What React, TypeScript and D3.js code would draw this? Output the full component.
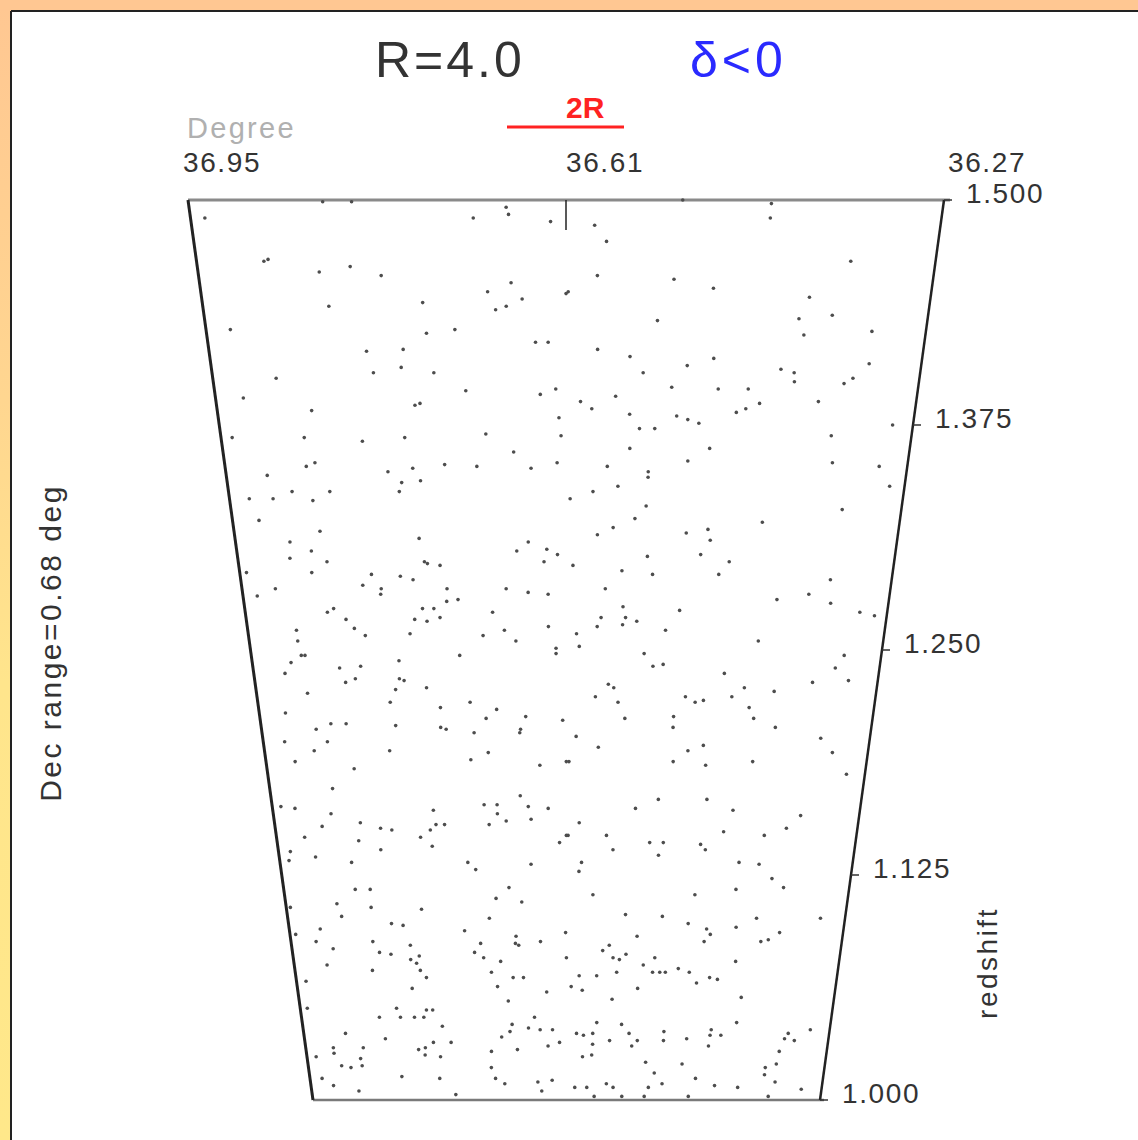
import React from "react";
import * as d3 from "d3";

// Right ascension (deg) and redshift of each galaxy in the slice
const galaxies: [number, number][] = [
  [36.937,1.490],[36.694,1.490],[36.664,1.496],[36.662,1.492],[36.624,1.488],[36.888,1.466],[36.884,1.467],[36.838,1.460],
  [36.809,1.463],[36.781,1.458],[36.683,1.449],[36.661,1.454],[36.651,1.445],[36.676,1.439],[36.666,1.441],[36.610,1.448],
  [36.832,1.441],[36.744,1.443],[36.927,1.428],[36.742,1.426],[36.715,1.428],[36.800,1.416],[36.765,1.417],[36.639,1.421],
  [36.627,1.421],[36.768,1.407],[36.795,1.404],[36.737,1.404],[36.889,1.401],[36.923,1.390],[36.707,1.394],[36.635,1.392],
  [36.620,1.395],[36.858,1.383],[36.757,1.386],[36.752,1.387],[36.617,1.379],[36.939,1.368],[36.868,1.368],[36.811,1.366],
  [36.769,1.368],[36.689,1.370],[36.615,1.369],[36.662,1.360],[36.869,1.352],[36.860,1.354],[36.788,1.349],[36.763,1.351],
  [36.731,1.353],[36.699,1.352],[36.645,1.351],[36.619,1.354],[36.909,1.347],[36.775,1.343],[36.756,1.344],[36.778,1.338],
  [36.930,1.334],[36.906,1.334],[36.886,1.338],[36.866,1.333],[36.848,1.338],[36.923,1.322],[36.862,1.316],[36.761,1.312],
  [36.894,1.310],[36.873,1.305],[36.896,1.301],[36.858,1.299],[36.757,1.299],[36.754,1.298],[36.741,1.297],[36.649,1.310],
  [36.661,1.305],[36.630,1.306],[36.619,1.303],[36.633,1.299],[36.943,1.293],[36.875,1.293],[36.813,1.292],[36.783,1.291],
  [36.770,1.289],[36.935,1.280],[36.915,1.284],[36.823,1.286],[36.804,1.284],[36.805,1.281],[36.735,1.284],[36.736,1.277],
  [36.724,1.278],[36.673,1.284],[36.650,1.282],[36.629,1.281],[36.863,1.271],[36.856,1.273],[36.844,1.267],[36.836,1.262],
  [36.825,1.258],[36.762,1.273],[36.750,1.273],[36.771,1.267],[36.758,1.266],[36.744,1.268],[36.688,1.271],[36.777,1.259],
  [36.699,1.258],[36.676,1.261],[36.664,1.255],[36.629,1.263],[36.898,1.261],[36.898,1.255],[36.621,1.251],[36.829,1.499],
  [36.803,1.499],[36.425,1.498],[36.425,1.490],[36.584,1.486],[36.573,1.477],[36.348,1.466],[36.581,1.458],[36.510,1.456],
  [36.473,1.451],[36.608,1.449],[36.383,1.446],[36.524,1.433],[36.391,1.434],[36.360,1.436],[36.385,1.425],[36.321,1.427],
  [36.580,1.417],[36.549,1.413],[36.494,1.408],[36.469,1.412],[36.536,1.404],[36.404,1.406],[36.391,1.404],[36.390,1.399],
  [36.320,1.409],[36.342,1.398],[36.334,1.401],[36.508,1.396],[36.463,1.395],[36.434,1.395],[36.596,1.388],[36.562,1.391],
  [36.585,1.384],[36.548,1.381],[36.502,1.380],[36.491,1.378],[36.480,1.376],[36.444,1.382],[36.435,1.384],[36.422,1.387],
  [36.365,1.388],[36.538,1.373],[36.523,1.373],[36.290,1.375],[36.349,1.369],[36.547,1.362],[36.468,1.362],[36.569,1.352],
  [36.528,1.349],[36.528,1.346],[36.489,1.355],[36.345,1.354],[36.298,1.352],[36.583,1.338],[36.558,1.341],[36.606,1.334],
  [36.285,1.341],[36.529,1.330],[36.330,1.328],[36.540,1.323],[36.562,1.318],[36.578,1.314],[36.487,1.315],[36.465,1.317],
  [36.462,1.311],[36.410,1.321],[36.471,1.303],[36.526,1.302],[36.441,1.299],[36.603,1.297],[36.552,1.294],[36.520,1.292],
  [36.451,1.292],[36.334,1.289],[36.569,1.284],[36.388,1.278],[36.355,1.281],[36.331,1.276],[36.550,1.274],[36.547,1.268],
  [36.573,1.268],[36.577,1.263],[36.550,1.264],[36.535,1.266],[36.490,1.272],[36.299,1.271],[36.283,1.269],[36.599,1.259],
  [36.504,1.261],[36.404,1.255],[36.596,1.252],[36.892,1.247],[36.896,1.247],[36.908,1.243],[36.916,1.237],[36.856,1.240],
  [36.833,1.241],[36.791,1.244],[36.725,1.247],[36.621,1.248],[36.851,1.232],[36.840,1.234],[36.792,1.234],[36.787,1.233],
  [36.797,1.228],[36.763,1.229],[36.894,1.226],[36.804,1.221],[36.749,1.218],[36.716,1.221],[36.921,1.215],[36.687,1.217],
  [36.699,1.212],[36.655,1.213],[36.614,1.211],[36.889,1.206],[36.872,1.209],[36.855,1.209],[36.800,1.208],[36.750,1.207],
  [36.744,1.206],[36.713,1.204],[36.661,1.206],[36.662,1.204],[36.926,1.199],[36.878,1.199],[36.894,1.194],[36.809,1.194],
  [36.718,1.189],[36.698,1.193],[36.917,1.188],[36.851,1.184],[36.640,1.186],[36.610,1.188],[36.878,1.173],[36.663,1.169],
  [36.940,1.163],[36.924,1.162],[36.705,1.164],[36.690,1.164],[36.690,1.159],[36.654,1.163],[36.631,1.162],[36.764,1.161],
  [36.883,1.159],[36.895,1.152],[36.850,1.154],[36.827,1.151],[36.814,1.150],[36.769,1.150],[36.762,1.153],[36.752,1.153],
  [36.781,1.146],[36.700,1.153],[36.680,1.155],[36.651,1.156],[36.917,1.146],[36.854,1.144],[36.829,1.139],[36.768,1.141],
  [36.618,1.143],[36.610,1.147],[36.936,1.138],[36.939,1.133],[36.907,1.135],[36.865,1.132],[36.727,1.132],[36.718,1.128],
  [36.652,1.131],[36.864,1.117],[36.846,1.117],[36.679,1.118],[36.888,1.109],[36.884,1.102],[36.847,1.107],[36.786,1.106],
  [36.695,1.112],[36.664,1.110],[36.945,1.107],[36.824,1.098],[36.810,1.097],[36.704,1.101],[36.912,1.095],[36.943,1.092],
  [36.735,1.094],[36.919,1.088],[36.899,1.084],[36.849,1.088],[36.803,1.086],[36.793,1.080],[36.716,1.087],[36.672,1.091],
  [36.673,1.087],[36.669,1.086],[36.642,1.088],[36.611,1.093],[36.842,1.082],[36.828,1.081],[36.724,1.082],[36.713,1.079],
  [36.804,1.078],[36.797,1.076],[36.692,1.077],[36.610,1.079],[36.909,1.075],[36.853,1.072],[36.793,1.072],[36.786,1.068],
  [36.704,1.071],[36.677,1.068],[36.664,1.068],[36.938,1.066],[36.805,1.062],[36.697,1.063],[36.635,1.060],[36.684,1.055],
  [36.941,1.051],[36.827,1.051],[36.789,1.050],[36.781,1.050],[36.850,1.046],[36.823,1.046],[36.805,1.046],[36.793,1.046],
  [36.770,1.041],[36.680,1.042],[36.659,1.040],[36.644,1.039],[36.628,1.039],[36.651,1.046],[36.694,1.035],[36.683,1.038],
  [36.896,1.037],[36.845,1.034],[36.914,1.029],[36.914,1.026],[36.875,1.029],[36.803,1.028],[36.794,1.029],[36.783,1.032],
  [36.760,1.032],[36.795,1.025],[36.775,1.024],[36.708,1.027],[36.674,1.028],[36.634,1.030],[36.619,1.032],[36.938,1.024],
  [36.880,1.023],[36.879,1.019],[36.906,1.019],[36.894,1.018],[36.709,1.018],[36.934,1.012],[36.828,1.013],[36.778,1.012],
  [36.704,1.012],[36.692,1.009],[36.648,1.010],[36.629,1.011],[36.643,1.005],[36.920,1.008],[36.887,1.005],[36.758,1.003],
  [36.526,1.248],[36.516,1.241],[36.505,1.242],[36.438,1.237],[36.310,1.247],[36.318,1.240],[36.302,1.233],[36.341,1.232],
  [36.564,1.231],[36.558,1.229],[36.578,1.224],[36.553,1.221],[36.479,1.224],[36.468,1.221],[36.459,1.222],[36.428,1.224],
  [36.415,1.229],[36.382,1.227],[36.408,1.218],[36.402,1.212],[36.545,1.212],[36.491,1.213],[36.491,1.207],[36.377,1.207],
  [36.599,1.202],[36.574,1.196],[36.325,1.201],[36.310,1.193],[36.607,1.188],[36.489,1.188],[36.473,1.194],[36.456,1.197],
  [36.452,1.186],[36.399,1.188],[36.291,1.181],[36.504,1.167],[36.448,1.167],[36.530,1.162],[36.417,1.161],[36.338,1.158],
  [36.353,1.151],[36.595,1.154],[36.563,1.147],[36.608,1.147],[36.512,1.143],[36.496,1.143],[36.501,1.136],[36.555,1.139],
  [36.452,1.142],[36.446,1.139],[36.426,1.149],[36.378,1.147],[36.592,1.132],[36.595,1.127],[36.405,1.132],[36.381,1.131],
  [36.364,1.123],[36.349,1.118],[36.578,1.114],[36.455,1.114],[36.406,1.117],[36.538,1.103],[36.493,1.102],[36.461,1.098],
  [36.438,1.095],[36.433,1.092],[36.440,1.088],[36.402,1.096],[36.378,1.101],[36.370,1.088],[36.361,1.089],[36.348,1.093],
  [36.300,1.101],[36.523,1.091],[36.565,1.083],[36.557,1.086],[36.552,1.079],[36.544,1.078],[36.536,1.081],[36.500,1.079],
  [36.514,1.075],[36.547,1.071],[36.502,1.071],[36.493,1.071],[36.486,1.071],[36.470,1.073],[36.456,1.071],[36.446,1.065],
  [36.430,1.068],[36.420,1.067],[36.399,1.077],[36.594,1.069],[36.572,1.069],[36.604,1.063],[36.590,1.061],[36.520,1.062],
  [36.552,1.056],[36.388,1.057],[36.571,1.043],[36.539,1.042],[36.529,1.037],[36.597,1.037],[36.588,1.036],[36.576,1.037],
  [36.576,1.031],[36.554,1.033],[36.525,1.030],[36.518,1.033],[36.484,1.038],[36.484,1.033],[36.454,1.034],[36.423,1.039],
  [36.424,1.036],[36.410,1.036],[36.425,1.030],[36.391,1.043],[36.323,1.037],[36.314,1.033],[36.327,1.034],[36.295,1.039],
  [36.332,1.027],[36.589,1.024],[36.577,1.025],[36.506,1.021],[36.458,1.020],[36.494,1.015],[36.334,1.020],[36.348,1.018],
  [36.348,1.014],[36.333,1.010],[36.439,1.012],[36.413,1.008],[36.382,1.007],[36.483,1.009],[36.557,1.009],[36.548,1.007],
  [36.501,1.007],[36.599,1.007],[36.583,1.007],[36.297,1.006],[36.573,1.002],[36.536,1.002],[36.506,1.002],[36.447,1.002],
  [36.340,1.002],[36.505,1.500]
];

const zRange: [number, number] = [1.0, 1.5];
const raRange: [number, number] = [36.95, 36.27];
const redshiftTicks = [1.0, 1.125, 1.25, 1.375, 1.5];
const degreeTicks = [36.95, 36.61, 36.27];
const titleText = "R=4.0";
const signText = "δ<0";
const scaleText = "2R";
const decRangeText = "Dec range=0.68 deg";

const W = 1138;
const H = 1140;

export default function App() {
  const yOf = d3.scaleLinear().domain(zRange).range([1100, 200]);
  const halfW = d3.scaleLinear().domain(zRange).range([253.5, 378]);
  const cx = d3.scaleLinear().domain(zRange).range([566.5, 566]);
  const raNorm = d3.scaleLinear().domain(raRange).range([-1, 1]);
  const xOf = (ra: number, z: number) => cx(z) + raNorm(ra) * halfW(z);

  const zTop = zRange[1];
  const zBot = zRange[0];
  const tl = [xOf(raRange[0], zTop), yOf(zTop)];
  const tr = [xOf(raRange[1], zTop), yOf(zTop)];
  const bl = [xOf(raRange[0], zBot), yOf(zBot)];
  const br = [xOf(raRange[1], zBot), yOf(zBot)];

  const font = "'Liberation Sans', Arial, sans-serif";

  return (
    <svg
      width={W}
      height={H}
      style={{ position: "absolute", left: 0, top: 0, display: "block" }}
      fontFamily={font}
    >
      <defs>
        <linearGradient id="bgGrad" x1="0" y1="0" x2="0" y2="1">
          <stop offset="0" stopColor="#ffc792" />
          <stop offset="0.35" stopColor="#ffd690" />
          <stop offset="0.6" stopColor="#ffe58c" />
          <stop offset="1" stopColor="#ffe88a" />
        </linearGradient>
      </defs>
      <rect x={0} y={0} width={W} height={H} fill="url(#bgGrad)" />
      <rect x={0} y={0} width={W} height={11} fill="#ffc792" />
      <rect x={11} y={11} width={W} height={H} fill="#ffffff" />
      <line x1={11} y1={11} x2={W} y2={11} stroke="#222" strokeWidth={2} />
      <line x1={11} y1={11} x2={11} y2={H} stroke="#222" strokeWidth={2} />

      {/* titles */}
      <text x={375} y={77} fontSize={50} fill="#333" letterSpacing={3}>{titleText}</text>
      <text x={690} y={77} fontSize={50} fill="#2a2aff" letterSpacing={4}>{signText}</text>
      <text x={566} y={118} fontSize={30} fill="#ff2222" fontWeight="bold">{scaleText}</text>
      <line x1={507} y1={127} x2={624} y2={127} stroke="#ff2222" strokeWidth={3} />

      {/* degree axis */}
      <text x={187} y={138} fontSize={29} fill="#b0b0b0" letterSpacing={2.3}>Degree</text>
      {degreeTicks.map((d, i) => (
        <text key={d} x={xOf(d, zTop) + (i === 0 ? -5 : i === 2 ? 4 : 0)} y={172} fontSize={28} fill="#333" letterSpacing={1.6}>
          {d.toFixed(2)}
        </text>
      ))}

      {/* wedge */}
      <line x1={tl[0]} y1={tl[1]} x2={tr[0] + 6} y2={tr[1]} stroke="#8a8a8a" strokeWidth={3} />
      <line x1={bl[0]} y1={bl[1]} x2={br[0] + 4} y2={br[1]} stroke="#7a7a7a" strokeWidth={2.5} />
      <line x1={tl[0]} y1={tl[1]} x2={bl[0]} y2={bl[1]} stroke="#222" strokeWidth={3} />
      <line x1={tr[0]} y1={tr[1]} x2={br[0]} y2={br[1]} stroke="#222" strokeWidth={2.5} />
      <line x1={xOf(degreeTicks[1], zTop)} y1={yOf(zTop)} x2={xOf(degreeTicks[1], zTop)} y2={yOf(zTop) + 30} stroke="#222" strokeWidth={1.5} />

      {redshiftTicks.map((t) => {
        const ex = xOf(raRange[1], t);
        return (
          <g key={t}>
            <line x1={ex} y1={yOf(t)} x2={ex + 8} y2={yOf(t)} stroke="#333" strokeWidth={1.5} />
            <text x={ex + 22} y={yOf(t) + 3} fontSize={28} fill="#333" letterSpacing={1.6}>
              {t.toFixed(3)}
            </text>
          </g>
        );
      })}

      {/* galaxies */}
      {galaxies.map(([ra, z], i) => (
        <circle key={i} cx={xOf(ra, z)} cy={yOf(z)} r={1.8} fill="#4d4d4d" />
      ))}

      {/* axis titles */}
      <text
        transform="translate(61,643) rotate(-90)"
        textAnchor="middle"
        fontSize={30}
        fill="#333"
        letterSpacing={2.5}
      >
        {decRangeText}
      </text>
      <text
        transform="translate(997,963) rotate(-90)"
        textAnchor="middle"
        fontSize={28}
        fill="#333"
        letterSpacing={2.5}
      >
        redshift
      </text>
    </svg>
  );
}
